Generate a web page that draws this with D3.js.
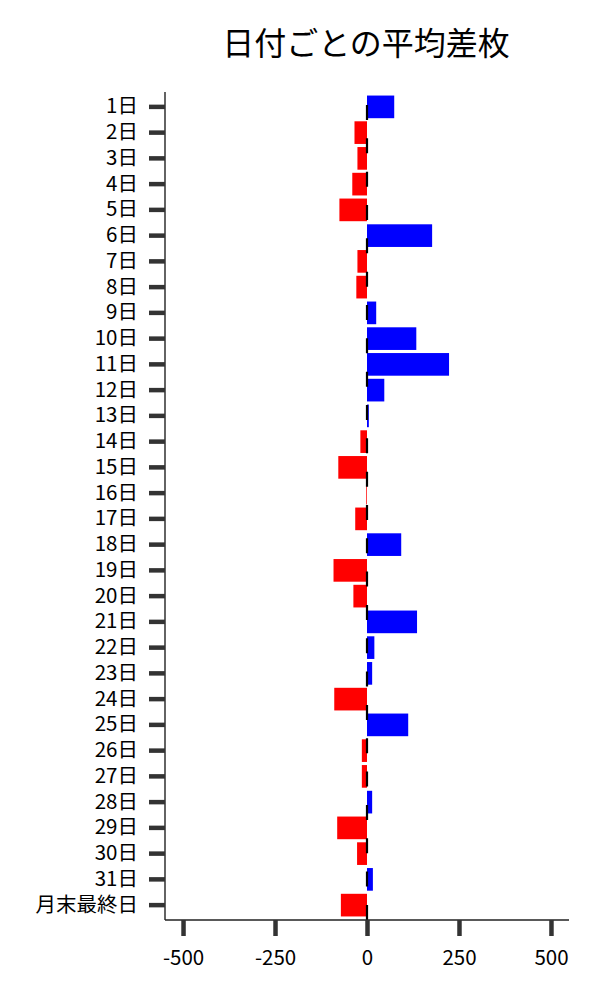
<!DOCTYPE html>
<html><head><meta charset="utf-8">
<script src="https://cdn.jsdelivr.net/npm/d3@7"></script>
<style>body{margin:0;background:#fff}svg{display:block}text{font-family:"Noto Sans CJK JP","Noto Sans",sans-serif}</style>
</head><body>
<svg id="c" width="600" height="1000"></svg>
<script>
const categories = ["1日","2日","3日","4日","5日","6日","7日","8日","9日","10日","11日","12日","13日","14日","15日","16日","17日","18日","19日","20日","21日","22日","23日","24日","25日","26日","27日","28日","29日","30日","31日","月末最終日"];
const values = [74,-34,-26,-40,-75,177,-26,-29,25,134,223,47,5,-18,-78,-2,-32,93,-91,-37,136,20,14,-89,112,-14,-14,14,-81,-27,16,-71];
const xTicks = [-500,-250,0,250,500];
const title = "日付ごとの平均差枚";

const svg = d3.select("#c");
const L = 165, R = 569, T = 92, B = 920;
const x = d3.scaleLinear().domain([-549,549]).range([L,R]);
const y = d3.scaleBand().domain(categories).range([94,918]).paddingInner(0.12).paddingOuter(0.06);

svg.append("text").attr("x",(L+R)/2 - 1).attr("y",41).attr("text-anchor","middle")
  .attr("dominant-baseline","central").attr("font-size",32).attr("fill","#000").text(title);

svg.append("g").selectAll("rect").data(values).join("rect")
  .attr("x",(d)=>x(Math.min(0,d))).attr("width",(d)=>Math.abs(x(d)-x(0)))
  .attr("y",(d,i)=>y(categories[i])).attr("height",y.bandwidth())
  .attr("fill",(d)=>d>=0?"#0000ff":"#ff0000");

svg.append("line").attr("x1",x(0)).attr("x2",x(0)).attr("y1",105).attr("y2",B)
  .attr("stroke","#000").attr("stroke-width",2.2).attr("stroke-dasharray","15,18.33");

const ya = svg.append("g").attr("transform",`translate(${L},0)`)
  .call(d3.axisLeft(y).tickSize(16).tickPadding(11));
ya.select(".domain").attr("stroke","#222").attr("stroke-width",1.4).attr("d",`M0,${T}V${B}`);
ya.selectAll(".tick line").attr("stroke","#333").attr("stroke-width",4.5);
ya.selectAll(".tick text").attr("font-size",20.5).attr("fill","#000");

const xa = svg.append("g").attr("transform",`translate(0,${B})`)
  .call(d3.axisBottom(x).tickValues(xTicks).tickSize(16).tickPadding(14).tickFormat((d)=>String(d)));
xa.select(".domain").attr("stroke","#222").attr("stroke-width",1.4).attr("d",`M${L},0H${R}`);
xa.selectAll(".tick line").attr("stroke","#333").attr("stroke-width",4.5);
xa.selectAll(".tick text").attr("font-size",20.5).attr("fill","#000");
</script>
</body></html>
